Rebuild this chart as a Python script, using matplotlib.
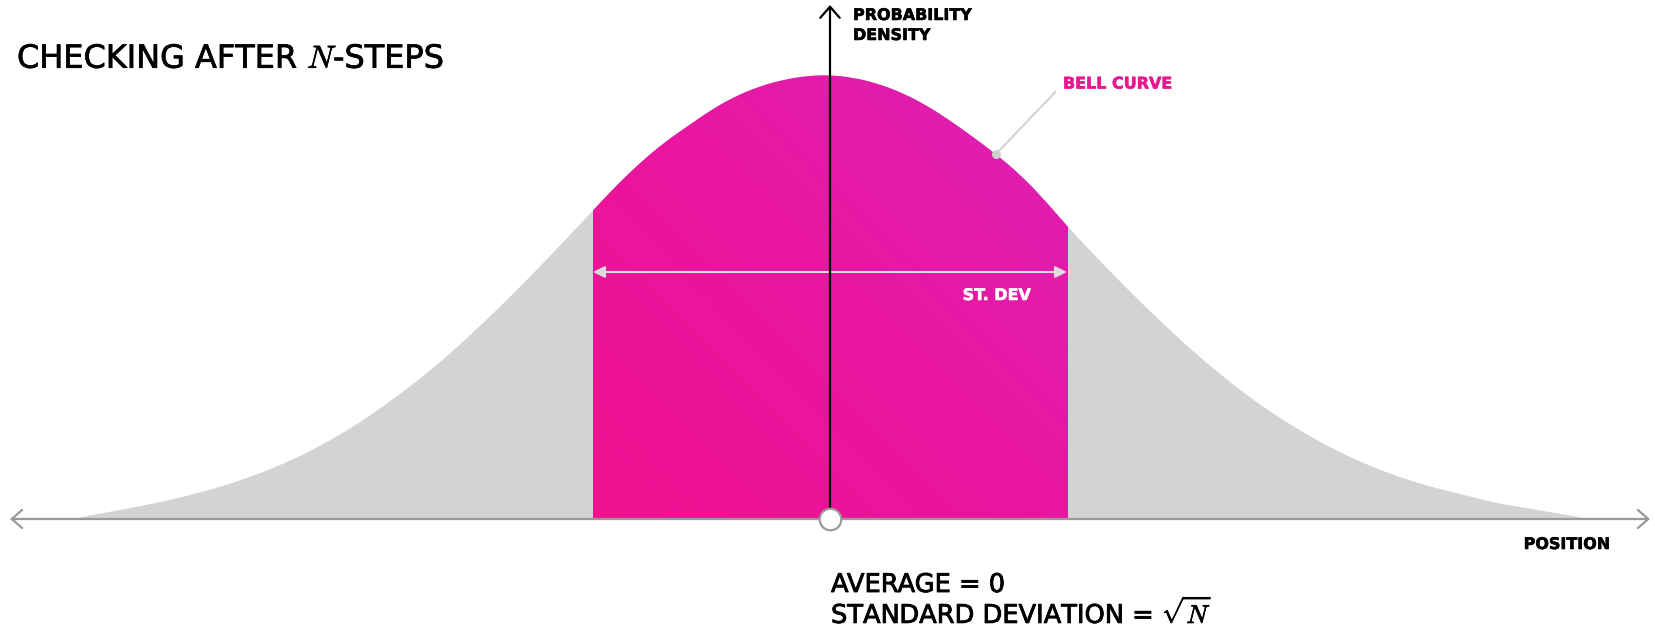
import numpy as np
import matplotlib
matplotlib.use("Agg")
import matplotlib.pyplot as plt
from matplotlib.patches import FancyArrowPatch, PathPatch
from matplotlib.path import Path
from matplotlib.colors import LinearSegmentedColormap
import matplotlib.patheffects as pe

# ---------------- data ----------------
# position in units of the marked standard deviation, density relative to the peak
position = [-3.2, -3.1, -3.0, -2.9, -2.8, -2.7, -2.6, -2.5, -2.4, -2.3, -2.2, -2.1,
            -2.0, -1.9, -1.8, -1.7, -1.6, -1.5, -1.4, -1.3, -1.2, -1.1, -1.0, -0.9,
            -0.8, -0.7, -0.6, -0.5, -0.4, -0.3, -0.2, -0.1, 0.0, 0.1, 0.2, 0.3, 0.4,
            0.5, 0.6, 0.7, 0.8, 0.9, 1.0, 1.1, 1.2, 1.3, 1.4, 1.5, 1.6, 1.7, 1.8,
            1.9, 2.0, 2.1, 2.2, 2.3, 2.4, 2.5, 2.6, 2.7, 2.8, 2.9, 3.0, 3.1, 3.2]
density = [0.000, 0.010, 0.020, 0.030, 0.041, 0.054, 0.068, 0.085, 0.104, 0.126,
           0.151, 0.180, 0.212, 0.248, 0.287, 0.329, 0.374, 0.423, 0.474, 0.527,
           0.582, 0.638, 0.695, 0.752, 0.803, 0.848, 0.885, 0.922, 0.952, 0.974,
           0.989, 0.998, 1.000, 0.994, 0.981, 0.961, 0.934, 0.900, 0.862, 0.822,
           0.777, 0.722, 0.660, 0.603, 0.548, 0.494, 0.443, 0.393, 0.347, 0.303,
           0.263, 0.227, 0.194, 0.164, 0.138, 0.115, 0.095, 0.078, 0.064, 0.051,
           0.037, 0.028, 0.019, 0.010, 0.000]
average = 0.0
st_dev_band = [-1.0, 1.0]
bell_label_at = 0.7
title_text = r"CHECKING AFTER $N$-STEPS"
y_label = ["PROBABILITY", "DENSITY"]
x_label = "POSITION"
summary = ["AVERAGE = 0", r"STANDARD DEVIATION = $\sqrt{N}$"]

# ---------------- style ----------------
W, H = 1655, 630
plt.rcParams["font.family"] = ["DejaVu Sans"]
plt.rcParams["mathtext.fontset"] = "cm"
GRAY_FILL = "#d3d3d3"
AXIS_GRAY = "#9a9a9a"
PINK = "#e8168f"

fig = plt.figure(figsize=(W / 100, H / 100), dpi=100)
fig.patch.set_facecolor("white")
ax = fig.add_axes([0, 0, 1, 1])
ax.set_xlim(-830 / 237, (W - 830) / 237)
ax.set_ylim((519 - H) / 444, 519 / 444)
ax.axis("off")


def fpos(x, y):
    return x / W, 1 - y / H


def medium(width, color="black"):
    return [pe.withStroke(linewidth=width, foreground=color)]


# smooth outline of the bell curve (quadratic Bezier through the read points)
pts = list(zip(position, density))
verts = [(position[0], 0.0), pts[0]]
codes = [Path.MOVETO, Path.LINETO]
for k in range(1, len(pts) - 1):
    mid = ((pts[k][0] + pts[k + 1][0]) / 2, (pts[k][1] + pts[k + 1][1]) / 2)
    verts += [pts[k], mid]
    codes += [Path.CURVE3, Path.CURVE3]
verts += [pts[-1], (position[-1], 0.0), (position[0], 0.0)]
codes += [Path.LINETO, Path.LINETO, Path.CLOSEPOLY]
bell_path = Path(verts, codes)

# whole bell curve in gray
ax.add_patch(PathPatch(bell_path, facecolor=GRAY_FILL, edgecolor="none", zorder=1))

# standard deviation band with pink gradient
cmap = LinearSegmentedColormap.from_list("pinkgrad", ["#f01190", "#e916a0", "#dc22b6"])
gx, gy = np.meshgrid(np.linspace(0, 1, 300), np.linspace(0, 1, 300))
grad = (gx * 474 + gy * 444) / (474 + 444)
im = ax.imshow(grad, cmap=cmap, origin="lower", aspect="auto",
               extent=[st_dev_band[0], st_dev_band[1], 0, max(density) + 0.01], zorder=2,
               interpolation="bilinear")
im.set_clip_path(bell_path, transform=ax.transData)

# horizontal axis
xmin, xmax = ax.get_xlim()
ax.add_patch(FancyArrowPatch((xmin + 10 / 237, 0), (xmax - 5 / 237, 0),
                             arrowstyle="<->,head_length=0.75,head_width=0.65",
                             mutation_scale=10, color=AXIS_GRAY, linewidth=1.6,
                             shrinkA=0, shrinkB=0, zorder=3))
# vertical axis
ymin, ymax = ax.get_ylim()
ax.add_patch(FancyArrowPatch((average, 0), (average, ymax - 5 / 444),
                             arrowstyle="->,head_length=0.8,head_width=0.7",
                             mutation_scale=10, color="black", linewidth=1.6,
                             shrinkA=0, shrinkB=0, zorder=4))
ax.plot([average], [0], marker="o", markersize=15.5, markerfacecolor="white",
        markeredgecolor=AXIS_GRAY, markeredgewidth=1.6, zorder=5, clip_on=False)

# st. dev arrow
y_arrow = (519 - 272) / 444
ax.add_patch(FancyArrowPatch((st_dev_band[0], y_arrow), (st_dev_band[1], y_arrow),
                             arrowstyle="<|-|>,head_length=0.7,head_width=0.35",
                             mutation_scale=10, color="#dcdcdc", linewidth=1.5,
                             shrinkA=0, shrinkB=0, zorder=3))
LAB = 11.5
fig.text(*fpos(997, 300), "ST. DEV", color="white", fontsize=LAB, fontweight="bold",
         ha="center", va="baseline", path_effects=medium(0.4, "white"))

# bell curve label
i_lab = position.index(bell_label_at)
ax.plot([position[i_lab]], [density[i_lab]], marker="o", markersize=5.5,
        color="#d0d0d0", zorder=4)
ax.annotate("BELL CURVE", xy=(position[i_lab], density[i_lab]),
            xytext=fpos(1063, 84), textcoords="figure fraction",
            color=PINK, fontsize=LAB, fontweight="bold", ha="left", va="center",
            path_effects=medium(0.4, PINK),
            arrowprops=dict(arrowstyle="-", color="#d3d3d3", linewidth=1.5,
                            shrinkA=5, shrinkB=3, relpos=(0, 0.5)), zorder=4)

# axis labels
for txt, yy in zip(y_label, [20, 40]):
    fig.text(*fpos(853, yy), txt, fontsize=LAB, fontweight="bold", ha="left",
             va="baseline", path_effects=medium(0.4))
fig.text(*fpos(1567, 549), x_label, fontsize=LAB, fontweight="bold", ha="center",
         va="baseline", path_effects=medium(0.4))

# title
fig.text(*fpos(17, 68), title_text, fontsize=23, ha="left", va="baseline",
         path_effects=medium(0.5))

# summary
fig.text(*fpos(831, 592), summary[0], fontsize=18.5, ha="left", va="baseline",
         path_effects=medium(0.6))
fig.text(*fpos(831, 623), summary[1], fontsize=18.5, ha="left", va="baseline",
         path_effects=medium(0.6))

fig.savefig("out.png", dpi=100, facecolor="white")
